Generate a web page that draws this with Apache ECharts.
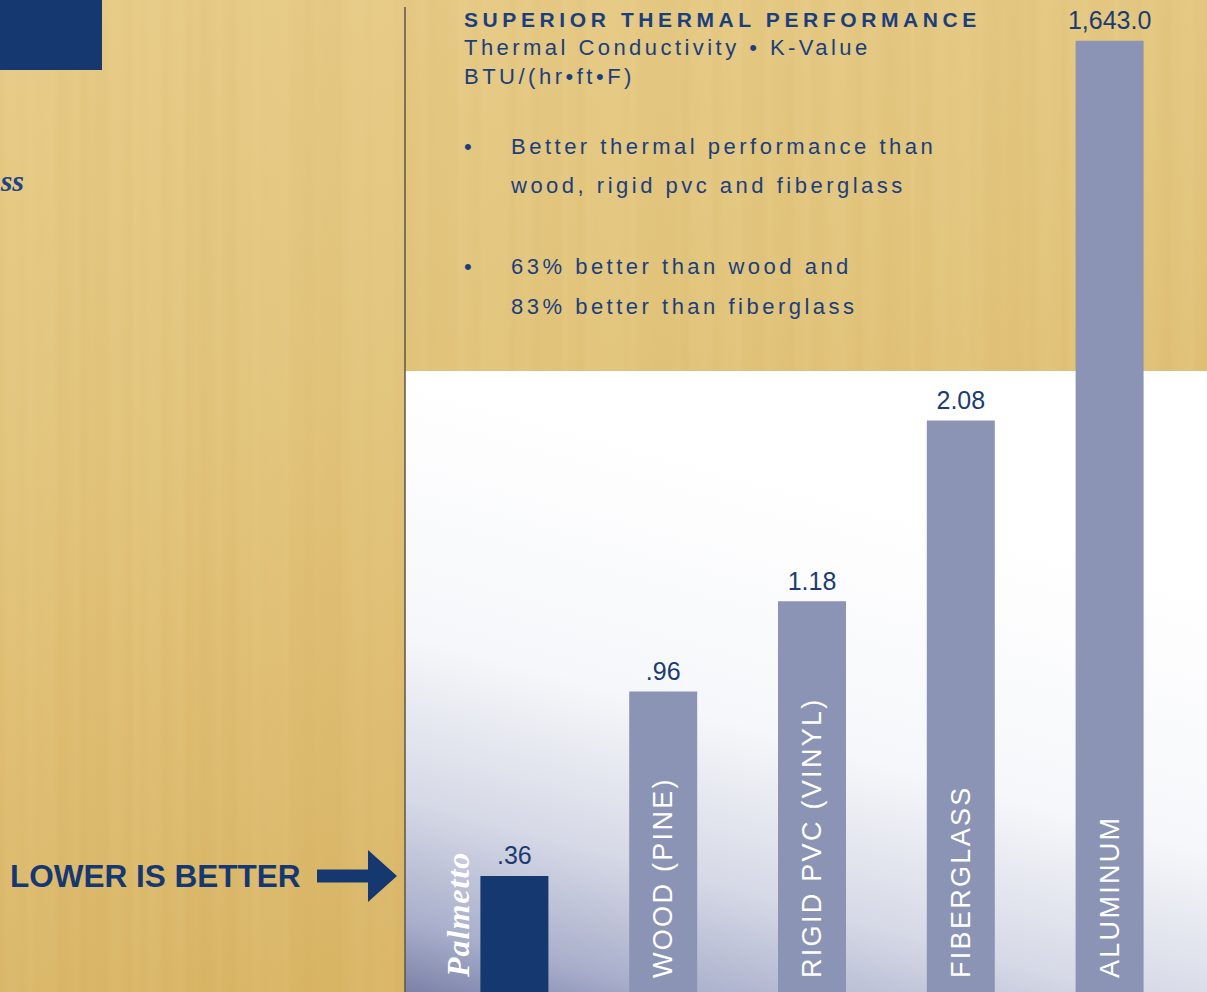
<!DOCTYPE html>
<html>
<head>
<meta charset="utf-8">
<script src="https://cdn.jsdelivr.net/npm/echarts@6/dist/echarts.min.js"></script>
<style>
html,body{margin:0;padding:0;background:#e2c57d;overflow:hidden;}
#main{width:1207px;height:992px;}
</style>
</head>
<body>
<div id="main"></div>
<script>
// ---------------- data ----------------
const categories = ['Palmetto', 'WOOD (PINE)', 'RIGID PVC (VINYL)', 'FIBERGLASS', 'ALUMINUM'];
const kValues = [0.36, 0.96, 1.18, 2.08, 1643.0];
const valueLabels = ['.36', '.96', '1.18', '2.08', '1,643.0'];
// the source graphic is not drawn to scale: bar lengths as drawn, in % of chart height
const drawnLength = [11.7, 30.3, 39.4, 57.6, 95.9];
const titleLines = ['SUPERIOR THERMAL PERFORMANCE', 'Thermal Conductivity \u2022 K-Value', 'BTU/(hr\u2022ft\u2022F)'];
const bulletLines = [
  ['Better thermal performance than', 'wood, rigid pvc and fiberglass'],
  ['63% better than wood and', '83% better than fiberglass']
];
const calloutText = 'LOWER IS BETTER';
const fragmentText = 'ss';

// ---------------- styles ----------------
const NAVY = '#163870';
const BAR = '#8b94b5';
const TEXT = '#1b3f7c';
const SANS = "'Liberation Sans', Arial, sans-serif";
const SERIF = "'Liberation Serif', 'Times New Roman', serif";

// wood grain stripes (decorative)
function woodStripes() {
  const stops = [];
  const n = 160;
  for (let k = 0; k <= n; k++) {
    const a = 0.035 + 0.035 * Math.sin(k * 2.71) * Math.cos(k * 0.83);
    const light = (Math.sin(k * 1.37) + Math.sin(k * 0.41)) > 0;
    const c = light ? `rgba(255,238,190,${Math.abs(a).toFixed(3)})` : `rgba(185,135,55,${Math.abs(a * 0.8).toFixed(3)})`;
    stops.push({ offset: k / n, color: c });
  }
  return stops;
}

const chart = echarts.init(document.getElementById('main'), null, { renderer: 'svg' });

const graphics = [
  { id: 'woodBase', type: 'rect', z: -30, silent: true,
    shape: { x: 0, y: 0, width: 1207, height: 992 },
    style: { fill: { type: 'linear', x: 0, y: 0, x2: 0.25, y2: 1, colorStops: [
      { offset: 0, color: '#e6cb87' }, { offset: 0.45, color: '#e2c47b' }, { offset: 1, color: '#d9b566' }] } } },
  { id: 'woodGrain', type: 'rect', z: -29, silent: true,
    shape: { x: 0, y: 0, width: 1207, height: 992 },
    style: { fill: { type: 'linear', x: 0, y: 0, x2: 1, y2: 0, colorStops: woodStripes() } } },
  { id: 'panel', type: 'rect', z: -28, silent: true,
    shape: { x: 405, y: 371, width: 802, height: 621 },
    style: { fill: { type: 'linear', x: 600, y: 420, x2: 440, y2: 1010, global: true, colorStops: [
      { offset: 0, color: '#ffffff' }, { offset: 0.42, color: '#f6f7fa' }, { offset: 0.68, color: '#d6d9e6' },
      { offset: 0.87, color: '#aab0cc' }, { offset: 1, color: '#767da4' }] } } },
  { id: 'divider', type: 'line', z: -27, silent: true,
    shape: { x1: 405, y1: 7, x2: 405, y2: 992 },
    style: { stroke: '#5e5444', lineWidth: 1.5 } },
  { id: 'navyBlock', type: 'rect', z: -27, silent: true,
    shape: { x: 0, y: 0, width: 102, height: 70 }, style: { fill: NAVY } },
  { id: 'frag', type: 'text', z: 5, x: 24, y: 180,
    style: { text: fragmentText, align: 'right', verticalAlign: 'middle', fill: '#1f4482',
      font: `italic bold 30px ${SERIF}` } },
  { id: 'callout', type: 'text', z: 5, x: 10, y: 876,
    style: { text: calloutText, align: 'left', verticalAlign: 'middle', fill: NAVY,
      font: `bold 31.5px ${SANS}` } },
  { id: 'arrow', type: 'polygon', z: 5,
    shape: { points: [[317, 869.5], [368, 869.5], [368, 850], [397, 876], [368, 902], [368, 882.5], [317, 882.5]] },
    style: { fill: NAVY } },
  { id: 't0', type: 'text', z: 5, x: 464, y: 19,
    style: { text: titleLines[0], align: 'left', verticalAlign: 'middle', fill: TEXT, font: `bold 21px ${SANS}` } },
  { id: 't1', type: 'text', z: 5, x: 464, y: 47.5,
    style: { text: titleLines[1], align: 'left', verticalAlign: 'middle', fill: TEXT, font: `22px ${SANS}` } },
  { id: 't2', type: 'text', z: 5, x: 464, y: 76.5,
    style: { text: titleLines[2], align: 'left', verticalAlign: 'middle', fill: TEXT, font: `22px ${SANS}` } }
];
const bulletY = [[146.7, 185.7], [266.7, 306.7]];
bulletLines.forEach((lines, b) => {
  graphics.push({ id: 'dot' + b, type: 'text', z: 5, x: 464, y: bulletY[b][0],
    style: { text: '\u2022', align: 'left', verticalAlign: 'middle', fill: TEXT, font: `22px ${SANS}` } });
  lines.forEach((ln, j) => {
    graphics.push({ id: 'b' + b + '_' + j, type: 'text', z: 5, x: 511, y: bulletY[b][j],
      style: { text: ln, align: 'left', verticalAlign: 'middle', fill: TEXT, font: `22px ${SANS}` } });
  });
});

const option = {
  animation: false,
  backgroundColor: 'transparent',
  grid: { left: 440, right: 23, top: 0, bottom: 0 },
  xAxis: {
    type: 'category',
    data: categories,
    z: 10,
    axisLine: { show: false },
    axisTick: { show: false },
    splitLine: { show: false },
    axisLabel: {
      inside: true, rotate: 90, margin: 14, interval: 0,
      color: '#ffffff', fontFamily: SANS, fontSize: 27,
      formatter: (v, i) => (i === 0 ? '' : v)
    }
  },
  yAxis: { type: 'value', min: 0, max: 100, show: false },
  series: [{
    type: 'bar',
    z: 2,
    barWidth: 68,
    data: drawnLength.map((v, i) => ({ value: v, itemStyle: { color: i === 0 ? NAVY : BAR } })),
    label: {
      show: true, position: 'top', distance: 8,
      formatter: p => valueLabels[p.dataIndex],
      color: '#1b3c72', fontFamily: SANS, fontSize: 25
    }
  }],
  graphic: graphics
};
chart.setOption(option);

// brand name beside its bar
const pal = chart.convertToPixel({ xAxisIndex: 0 }, categories[0]);
const base = chart.convertToPixel({ yAxisIndex: 0 }, 0);
chart.setOption({
  graphic: [{ id: 'palmetto', type: 'text', z: 5, x: pal - 56.5, y: base - 15, rotation: Math.PI / 2,
    style: { text: categories[0], align: 'left', verticalAlign: 'middle', fill: '#ffffff',
      font: `italic bold 32px ${SERIF}` } }]
});

// letter spacing of the typeset texts
const spacing = {};
spacing[titleLines[0]] = 4.6;
spacing[titleLines[1]] = 3.45;
spacing[titleLines[2]] = 3.5;
bulletLines.forEach(ls => ls.forEach(l => { spacing[l] = 3.5; }));
categories.forEach((c, i) => { if (i > 0) spacing[c] = 2.3; });
spacing[categories[0]] = 1;
function applySpacing() {
  document.querySelectorAll('#main svg text').forEach(t => {
    const s = spacing[t.textContent];
    if (s != null && t.style.letterSpacing !== s + 'px') t.style.letterSpacing = s + 'px';
  });
}
chart.on('finished', applySpacing);
requestAnimationFrame(applySpacing);
setTimeout(applySpacing, 50);
setTimeout(applySpacing, 300);
</script>
</body>
</html>
